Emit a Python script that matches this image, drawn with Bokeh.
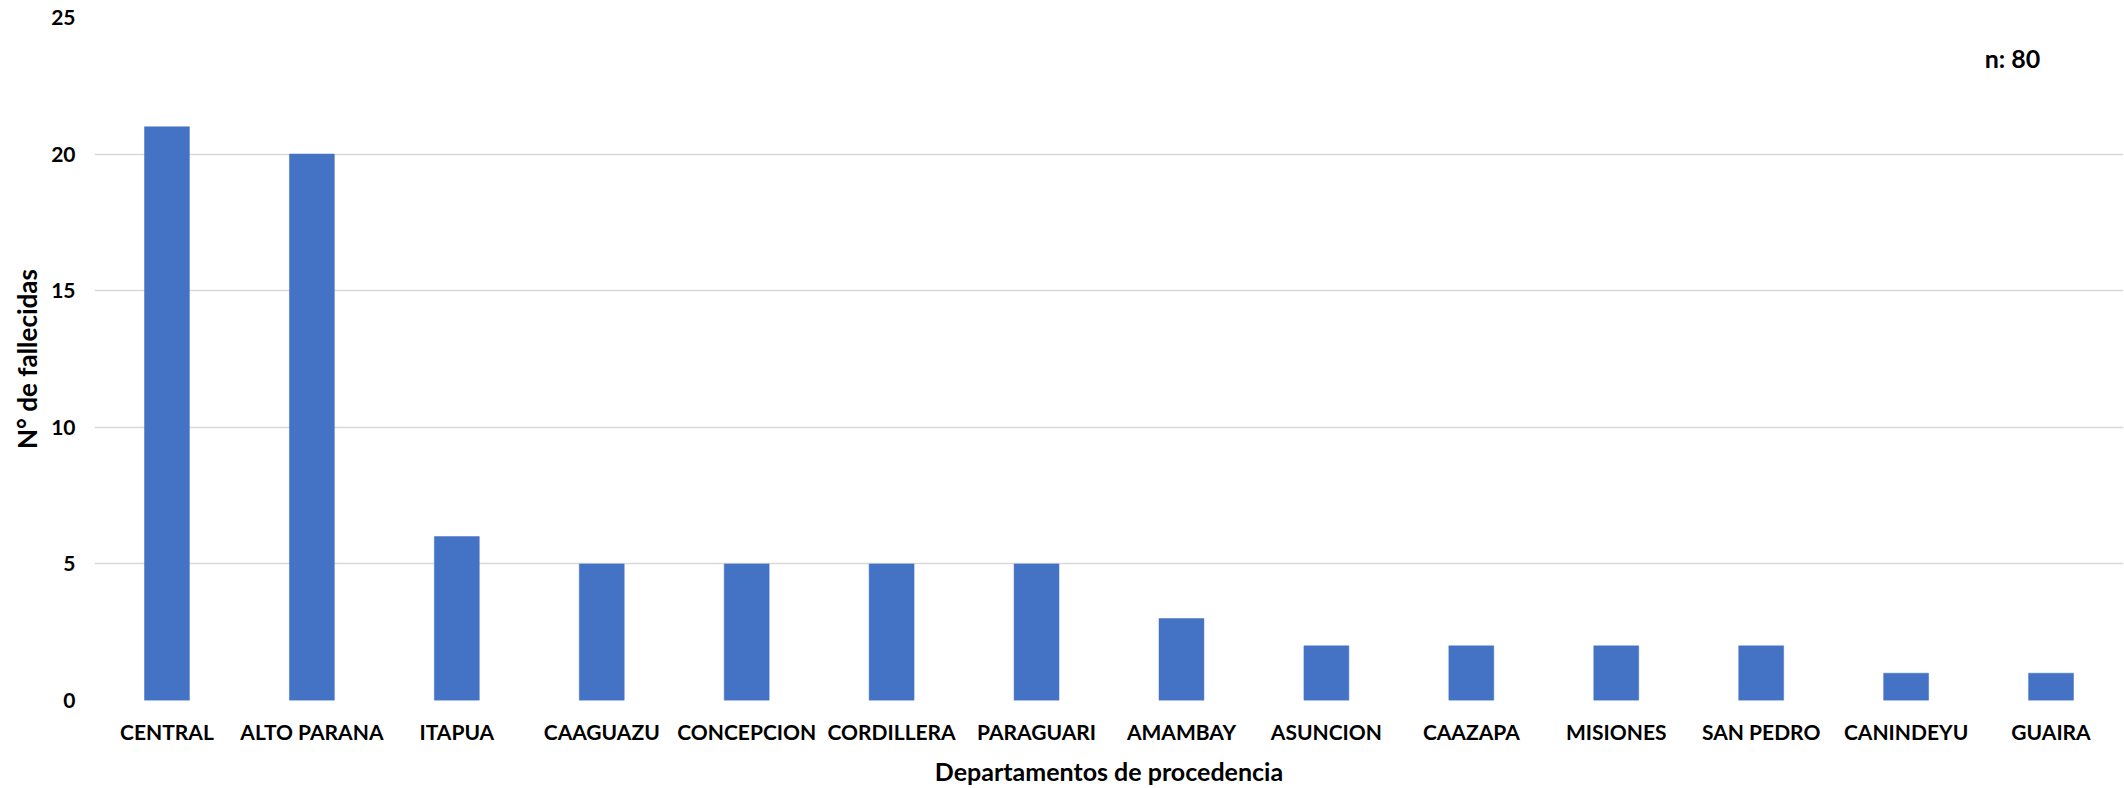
from bokeh.plotting import figure
from bokeh.models import FactorRange, Range1d, Label
from bokeh.embed import file_html
from bokeh.resources import INLINE

departamentos = ["CENTRAL", "ALTO PARANA", "ITAPUA", "CAAGUAZU", "CONCEPCION",
                 "CORDILLERA", "PARAGUARI", "AMAMBAY", "ASUNCION", "CAAZAPA",
                 "MISIONES", "SAN PEDRO", "CANINDEYU", "GUAIRA"]
fallecidas = [21, 20, 6, 5, 5, 5, 5, 3, 2, 2, 2, 2, 1, 1]
y_ticks = [0, 5, 10, 15, 20, 25]
n_total = sum(fallecidas)

BLUE = "#4472C4"
GRID = "#D9D9D9"
FONT = "Lato"

p = figure(x_range=FactorRange(factors=departamentos, range_padding=0),
           y_range=Range1d(0, 25),
           width=2124, height=788, output_backend="svg", toolbar_location=None,
           min_border_left=94, min_border_right=1, min_border_top=17, min_border_bottom=84)

p.vbar(x=departamentos, top=fallecidas, width=0.31, fill_color=BLUE,
       line_color=BLUE, line_width=0.5)

p.outline_line_color = None
p.xgrid.grid_line_color = None
p.ygrid.grid_line_color = GRID
p.ygrid.grid_line_width = 1.3
p.yaxis.ticker = y_ticks

for ax in (p.xaxis, p.yaxis):
    ax.axis_line_color = None
    ax.major_tick_line_color = None
    ax.minor_tick_line_color = None
    ax.axis_label_text_font = FONT
    ax.axis_label_text_font_style = "bold"
    ax.axis_label_text_color = "#000000"
    ax.major_label_text_color = "#000000"
    ax.major_label_text_font = FONT
    ax.major_label_text_font_style = "bold"

p.xaxis.axis_label = "Departamentos de procedencia"
p.xaxis.axis_label_text_font_size = "25px"
p.xaxis.major_label_text_font_size = "21px"
p.xaxis.major_label_standoff = 12
p.xaxis.axis_label_standoff = 9

p.yaxis.axis_label = "N° de fallecidas"
p.yaxis.axis_label_text_font_size = "26px"
p.yaxis.major_label_text_font_size = "21px"
p.yaxis.major_label_standoff = 13
p.yaxis.axis_label_standoff = 5

p.add_layout(Label(x=1918, y=23.5, x_units="screen", text=f"n: {n_total}",
                   text_font=FONT, text_font_style="bold", text_font_size="25px",
                   text_align="center", text_baseline="middle", text_color="#000000"))

open("out.html", "w").write(file_html(p, INLINE))
